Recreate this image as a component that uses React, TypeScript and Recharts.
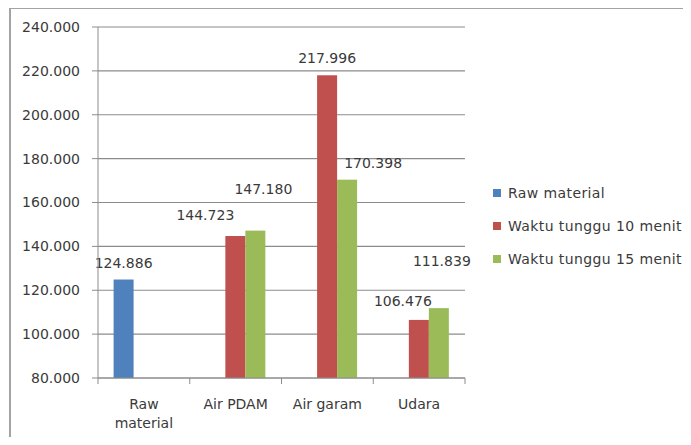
import React from "react";
import { BarChart, Bar, XAxis, YAxis, CartesianGrid, Text } from "recharts";

const categories = ["Raw material", "Air PDAM", "Air garam", "Udara"];
const rawMaterial = [124.886, null, null, null];
const tunggu10 = [null, 144.723, 217.996, 106.476];
const tunggu15 = [null, 147.18, 170.398, 111.839];
const yTicks = [80, 100, 120, 140, 160, 180, 200, 220, 240];

const series = [
  { key: "raw", name: "Raw material", values: rawMaterial, color: "#4F81BD" },
  { key: "t10", name: "Waktu tunggu 10 menit", values: tunggu10, color: "#C0504D" },
  { key: "t15", name: "Waktu tunggu 15 menit", values: tunggu15, color: "#9BBB59" },
];

// labels were dragged around by hand in the original; offsets from bar top-centre
const labelNudge: Record<string, [number, number][]> = {
  raw: [[0, -17], [0, 0], [0, 0], [0, 0]],
  t10: [[0, 0], [-30, -21], [0, -17], [-16, -19]],
  t15: [[0, 0], [8, -42], [26, -17], [3, -47]],
};

const W = 691;
const H = 445;
const margin = { top: 27, right: 226, bottom: 27, left: 10 };
const Y_AXIS_W = 88;
const plotLeft = margin.left + Y_AXIS_W;
const plotRight = W - margin.right;
const band = (plotRight - plotLeft) / categories.length;

const FONT = "'DejaVu Sans', sans-serif";
const FS = 14;
const GRID = "#8c8c8c";
const TEXT = "#3a3a3a";

const data = categories.map((c, i) => {
  const row: Record<string, any> = { name: c };
  series.forEach((s) => (row[s.key] = s.values[i]));
  return row;
});

function XTick(props: any) {
  const { x, y, payload, index } = props;
  const left = x - band / 2;
  return (
    <g>
      <line x1={left} y1={y} x2={left} y2={y + 6} stroke={GRID} />
      {index === categories.length - 1 && (
        <line x1={x + band / 2} y1={y} x2={x + band / 2} y2={y + 6} stroke={GRID} />
      )}
      <Text
        x={x}
        y={y + 21}
        width={80}
        textAnchor="middle"
        verticalAnchor="start"
        lineHeight={19}
        fontFamily={FONT}
        fontSize={FS}
        fill={TEXT}
      >
        {payload.value}
      </Text>
    </g>
  );
}

// bar + its value label, so the label can be nudged per category
function makeShape(key: string, color: string) {
  return (props: any) => {
    const { x, y, width, height, payload } = props;
    const v = payload?.[key];
    if (v == null || !height) return <g />;
    const ci = categories.indexOf(payload.name);
    const [dx, dy] = labelNudge[key][ci];
    return (
      <g>
        <rect x={x} y={y} width={width} height={height} fill={color} />
        <text
          x={x + width / 2 + dx}
          y={y + dy}
          textAnchor="middle"
          dominantBaseline="central"
          fontFamily={FONT}
          fontSize={FS}
          fill={TEXT}
        >
          {Number(v).toFixed(3)}
        </text>
      </g>
    );
  };
}

export default function App() {
  return (
    <div style={{ position: "relative", width: W, height: H, margin: -8, overflow: "hidden", background: "#fff" }}>
      <div
        style={{
          position: "absolute",
          left: 9,
          top: 7,
          width: W + 20,
          height: H + 20,
          borderLeft: "2px solid #a3a3a3",
          borderTop: "2px solid #a3a3a3",
        }}
      />
      <div style={{ position: "absolute", left: 0, top: 0 }}>
        <BarChart width={W} height={H} data={data} margin={margin} barGap={0} barCategoryGap="17%">
          <CartesianGrid horizontal vertical={false} stroke={GRID} strokeWidth={1.2} />
          <XAxis
            dataKey="name"
            height={40}
            stroke={GRID}
            tickLine={false}
            tickSize={0}
            tickMargin={0}
            interval={0}
            tick={<XTick />}
          />
          <YAxis
            width={Y_AXIS_W}
            domain={[80, 240]}
            ticks={yTicks}
            stroke={GRID}
            tickSize={6}
            tickMargin={12}
            tickFormatter={(v: number) => v.toFixed(3)}
            tick={{ fontFamily: FONT, fontSize: FS, fill: TEXT }}
          />
          {series.map((s) => (
            <Bar
              key={s.key}
              dataKey={s.key}
              name={s.name}
              fill={s.color}
              isAnimationActive={false}
              shape={makeShape(s.key, s.color)}
            />
          ))}
        </BarChart>
      </div>
      {series.map((s, i) => (
        <div
          key={s.key}
          style={{
            position: "absolute",
            left: 493,
            top: [193, 226, 259][i] - 9,
            height: 18,
            display: "flex",
            alignItems: "center",
            fontFamily: FONT,
            fontSize: FS,
            letterSpacing: 0.4,
            color: TEXT,
            whiteSpace: "nowrap",
          }}
        >
          <span style={{ width: 8, height: 8, background: s.color, marginRight: 7, display: "inline-block" }} />
          {s.name}
        </div>
      ))}
    </div>
  );
}
